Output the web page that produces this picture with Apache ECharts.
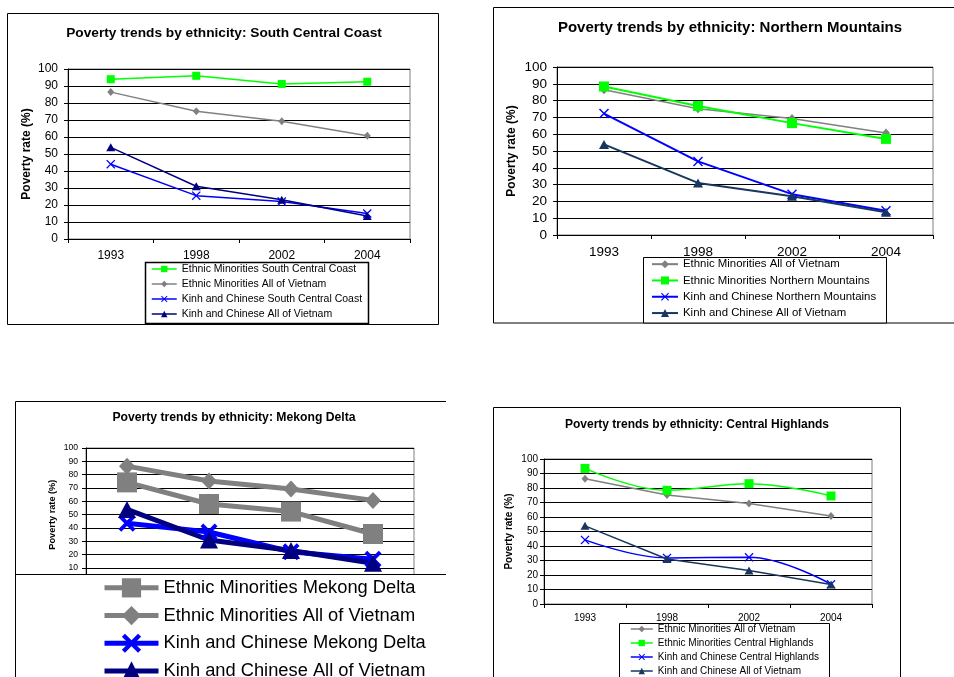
<!DOCTYPE html>
<html><head><meta charset="utf-8">
<script src="https://cdn.jsdelivr.net/npm/echarts@6/dist/echarts.min.js"></script>
<style>html,body{margin:0;padding:0;background:#fff}#c{width:954px;height:677px}</style>
</head><body><div id="c"></div>
<script>
// ---- data ----
const years = ['1993', '1998', '2002', '2004'];
const yTicks = [0, 100, 10];
const titles = [
  'Poverty trends by ethnicity: South Central Coast',
  'Poverty trends by ethnicity: Northern Mountains',
  'Poverty trends by ethnicity: Mekong Delta',
  'Poverty trends by ethnicity: Central Highlands'
];
const yName = 'Poverty rate (%)';
const emAllVietnam = [86.4, 75.2, 69.3, 60.7];
const kcAllVietnam = [53.9, 31.0, 23.1, 13.5];
const emSouthCentralCoast = [94, 96, 91.2, 92.5];
const kcSouthCentralCoast = [44, 25.5, 22, 15];
const emNorthernMountains = [88.4, 76.8, 66.6, 57.2];
const kcNorthernMountains = [72.3, 43.8, 24.3, 14.5];
const emMekongDelta = [74.2, 58, 52.3, 35.5];
const kcMekongDelta = [43.6, 37, 22.2, 16.5];
const emCentralHighlands = [93.5, 78.4, 83, 74.5];
const kcCentralHighlands = [44.2, 31.8, 32.2, 13.6];

const nEMAll = 'Ethnic Minorities All of Vietnam';
const nKCAll = 'Kinh and Chinese All of Vietnam';
const nEMSCC = 'Ethnic Minorities South Central Coast';
const nKCSCC = 'Kinh and Chinese South Central Coast';
const nEMNM = 'Ethnic Minorities Northern Mountains';
const nKCNM = 'Kinh and Chinese Northern Mountains';
const nEMMD = 'Ethnic Minorities Mekong Delta';
const nKCMD = 'Kinh and Chinese Mekong Delta';
const nEMCH = 'Ethnic Minorities Central Highlands';
const nKCCH = 'Kinh and Chinese Central Highlands';

// ---- styles ----
const FONT = "'Liberation Sans', Arial, Helvetica, sans-serif";
const GREEN = '#00ff00', GRAY = '#808080', BLUE = '#0000ff', NAVY = '#000080', SLATE = '#17375e';
const XSYM = 'path://M0,1L1,0L5,4L9,0L10,1L6,5L10,9L9,10L5,6L1,10L0,9L4,5Z';
const XSYM_B = 'path://M0,1.6L1.6,0L5,3.4L8.4,0L10,1.6L6.6,5L10,8.4L8.4,10L5,6.6L1.6,10L0,8.4L3.4,5Z';
const sep = '#';
const fmt = n => n.split(sep)[0];

const grids = [
  {left: 68, top: 69, width: 342, height: 170},
  {left: 557, top: 67, width: 376, height: 168},
  {left: 86, top: 448, width: 328, height: 133.3},
  {left: 544, top: 459, width: 328, height: 145}
];
const axisCfg = [
  {tick: 12, xMargin: 11, yMargin: 10, name: 12, nameGap: 35},
  {tick: 13.5, xMargin: 10, yMargin: 10, name: 12, nameGap: 39},
  {tick: 8.6, xMargin: 6, yMargin: 8, name: 9.2, nameGap: 29},
  {tick: 10, xMargin: 9, yMargin: 6, name: 10, nameGap: 30}
];

function ln(name, gi, data, color, symbol, size, width, extra) {
  return Object.assign({
    type: 'line', name: name + sep + gi, xAxisIndex: gi, yAxisIndex: gi, data: data,
    symbol: symbol, symbolSize: size, symbolKeepAspect: true,
    lineStyle: {color: color, width: width},
    itemStyle: {color: color, borderWidth: 0},
    emphasis: {disabled: true}, animation: false
  }, extra || {});
}

const series = [
  // Panel 1 South Central Coast
  ln(nEMSCC, 0, emSouthCentralCoast, GREEN, 'rect', 8, 1.5),
  ln(nEMAll, 0, emAllVietnam, GRAY, 'diamond', [7, 8], 1.5),
  ln(nKCSCC, 0, kcSouthCentralCoast, BLUE, XSYM, 9, 1.5),
  ln(nKCAll, 0, kcAllVietnam, NAVY, 'triangle', [9, 8], 1.5),
  // Panel 2 Northern Mountains
  ln(nEMAll, 1, emAllVietnam, GRAY, 'diamond', [8, 9], 1.5),
  ln(nEMNM, 1, emNorthernMountains, GREEN, 'rect', 10, 2),
  ln(nKCNM, 1, kcNorthernMountains, BLUE, XSYM, 10, 2),
  ln(nKCAll, 1, kcAllVietnam, SLATE, 'triangle', [10, 9], 2),
  // Panel 3 Mekong Delta
  ln(nEMMD, 2, emMekongDelta, GRAY, 'rect', 20, 5),
  ln(nEMAll, 2, emAllVietnam, GRAY, 'diamond', [16, 17], 5),
  ln(nKCMD, 2, kcMekongDelta, BLUE, XSYM_B, 17, 5),
  ln(nKCAll, 2, kcAllVietnam, NAVY, 'triangle', [18, 17], 5),
  // Panel 4 Central Highlands
  ln(nEMAll, 3, emAllVietnam, GRAY, 'diamond', [7, 8], 1.5),
  ln(nEMCH, 3, emCentralHighlands, GREEN, 'rect', 9, 1.5, {smooth: 0.4}),
  ln(nKCCH, 3, kcCentralHighlands, BLUE, XSYM, 9, 1.5, {smooth: 0.4}),
  ln(nKCAll, 3, kcAllVietnam, SLATE, 'triangle', [9, 8], 1.5)
];

const xAxis = grids.map((g, i) => ({
  type: 'category', gridIndex: i, data: years, boundaryGap: true,
  axisLine: {show: true, lineStyle: {color: '#000', width: 1}},
  axisTick: {show: true, length: 4, lineStyle: {color: '#000'}},
  axisLabel: {fontSize: axisCfg[i].tick, color: '#000', margin: axisCfg[i].xMargin, fontFamily: FONT},
  splitLine: {show: false}
}));
const yAxis = grids.map((g, i) => ({
  type: 'value', gridIndex: i, min: yTicks[0], max: yTicks[1], interval: yTicks[2],
  name: yName, nameLocation: 'middle', nameRotate: 90, nameGap: axisCfg[i].nameGap,
  nameTextStyle: {fontSize: axisCfg[i].name, fontWeight: 'bold', color: '#000', fontFamily: FONT},
  axisLine: {show: true, lineStyle: {color: '#000', width: 1}},
  axisTick: {show: true, length: 4, lineStyle: {color: '#000'}},
  axisLabel: {fontSize: axisCfg[i].tick, color: '#000', margin: axisCfg[i].yMargin, fontFamily: FONT},
  splitLine: {show: true, lineStyle: {color: '#000', width: 1}}
}));

const titleCfg = [
  {x: 224, y: 26, size: 13.7},
  {x: 730, y: 20.5, size: 15},
  {x: 234, y: 412, size: 12.2},
  {x: 697, y: 419, size: 12}
];
const title = titles.map((t, i) => ({
  text: t, left: titleCfg[i].x, top: titleCfg[i].y, textAlign: 'center', padding: 0,
  textStyle: {fontSize: titleCfg[i].size, fontWeight: 'bold', color: '#000', fontFamily: FONT}
}));

function lg(names, gi, left, top, iw, ih, fs, lh, lw) {
  return {
    data: names.map(n => n + sep + gi), orient: 'vertical', left: left, top: top,
    width: 400, height: 300,
    itemWidth: iw, itemHeight: ih, itemGap: 0, padding: 0, selectedMode: false,
    formatter: fmt, z: 60,
    lineStyle: {width: lw},
    textStyle: {fontSize: fs, lineHeight: lh, color: '#000', fontFamily: FONT}
  };
}
const legend = [
  lg([nEMSCC, nEMAll, nKCSCC, nKCAll], 0, 151, 261.5, 25, 8, 10.5, 15, 1.5),
  lg([nEMAll, nEMNM, nKCNM, nKCAll], 1, 651, 256, 26, 10, 11.4, 16.3, 2),
  lg([nEMMD, nEMAll, nKCMD, nKCAll], 2, 102, 574, 54, 24, 18.3, 27.7, 5),
  lg([nEMAll, nEMCH, nKCCH, nKCAll], 3, 630, 622, 22, 8, 10, 14, 1.5)
];

const frame = {fill: 'none', stroke: '#000', lineWidth: 1};
const graphic = [
  {type: 'rect', silent: true, z: 0, shape: {x: 7.5, y: 13.5, width: 431, height: 311}, style: frame},
  {type: 'rect', silent: true, z: 0, shape: {x: 493.5, y: 7.5, width: 480, height: 315.5}, style: frame},
  {type: 'rect', silent: true, z: 0, shape: {x: 493.5, y: 407.5, width: 407, height: 290}, style: frame},
  {type: 'polyline', silent: true, z: 0, shape: {points: [[15.5, 690], [15.5, 401.5], [446, 401.5]]}, style: frame},
  // legend boxes
  {type: 'rect', silent: true, z: 50, shape: {x: 145.5, y: 262.5, width: 223, height: 61}, style: {fill: '#fff', stroke: '#000', lineWidth: 1.5}},
  {type: 'rect', silent: true, z: 50, shape: {x: 643.5, y: 257.5, width: 243, height: 65.5}, style: {fill: '#fff', stroke: '#000', lineWidth: 1}},
  {type: 'rect', silent: true, z: 50, shape: {x: 619.5, y: 623.5, width: 210, height: 80}, style: {fill: '#fff', stroke: '#000', lineWidth: 1}},
  {type: 'rect', silent: true, z: 50, shape: {x: 16, y: 575, width: 430, height: 120}, style: {fill: '#fff', stroke: 'none'}},
  {type: 'line', silent: true, z: 51, shape: {x1: 15.5, y1: 574.5, x2: 446, y2: 574.5}, style: {stroke: '#000', lineWidth: 1}}
];

const chart = echarts.init(document.getElementById('c'), null, {renderer: 'canvas'});
chart.setOption({
  animation: false,
  backgroundColor: '#fff',
  textStyle: {fontFamily: FONT},
  title: title,
  grid: grids.map(g => Object.assign({show: true, borderColor: '#808080', borderWidth: 1, backgroundColor: '#fff', containLabel: false}, g)),
  xAxis: xAxis,
  yAxis: yAxis,
  legend: legend,
  graphic: graphic,
  series: series
});
</script></body></html>
